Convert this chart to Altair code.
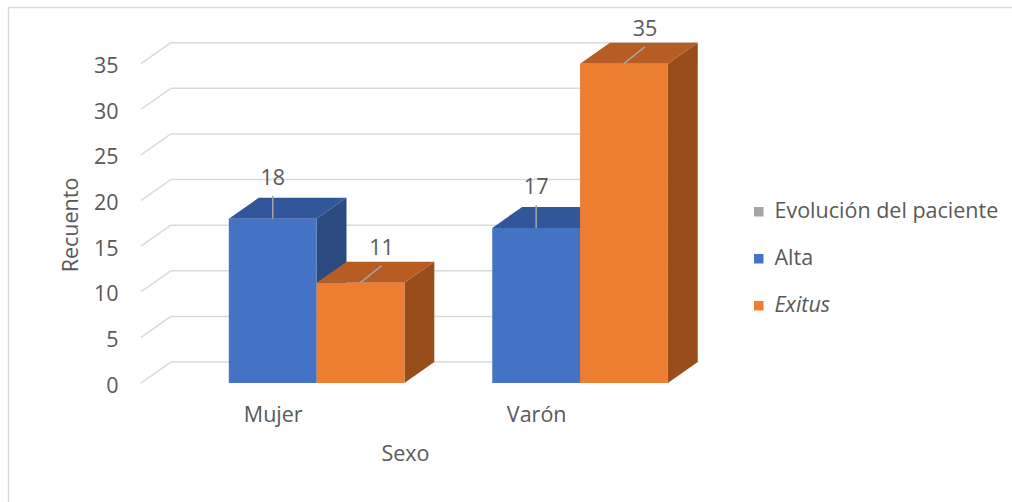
import altair as alt
import pandas as pd

# Recuento por sexo y evolución del paciente
categories = ["Mujer", "Varón"]
series = ["Alta", "Exitus"]
alta = [18, 17]
exitus = [11, 35]
y_ticks = [0, 5, 10, 15, 20, 25, 30, 35]
legend_header = "Evolución del paciente"

# colours of each series: front, top and side faces of the 3-D columns
front_colors = {"Alta": "#4472C4", "Exitus": "#ED7D31"}
top_colors = {"Alta": "#32569A", "Exitus": "#B55D22"}
side_colors = {"Alta": "#2B4A80", "Exitus": "#994D1B"}
header_color = "#A5A5A5"
text_color = "#595959"
grid_color = "#D9D9D9"
FONT = "Open Sans"
FS = 21.5

# depth of the 3-D box, in axis units (bar widths on x, counts on y)
DEPTH_X = 0.34
DEPTH_Y = 2.3
X_MAX = 6.4
Y_MAX = 40
W, H = 562, 365

values = {"Alta": alta, "Exitus": exitus}
rows = []
for ci, cat in enumerate(categories):
    for si, s in enumerate(series):
        xl = ci * 3 + 1 + si
        rows.append(dict(sexo=cat, serie=s, valor=values[s][ci],
                         xl=xl, xr=xl + 1, xc=xl + 0.5, bar=f"{cat}-{s}"))
bars = pd.DataFrame(rows)

top_rows, side_rows = [], []
for r in rows:
    top_rows.append(dict(bar=r["bar"], serie=r["serie"], y=r["valor"], x=r["xl"], x2=r["xr"]))
    top_rows.append(dict(bar=r["bar"], serie=r["serie"], y=r["valor"] + DEPTH_Y,
                         x=r["xl"] + DEPTH_X, x2=r["xr"] + DEPTH_X))
    side_rows.append(dict(bar=r["bar"], serie=r["serie"], x=r["xr"], y=r["valor"], y2=0))
    side_rows.append(dict(bar=r["bar"], serie=r["serie"], x=r["xr"] + DEPTH_X,
                          y=r["valor"] + DEPTH_Y, y2=DEPTH_Y))
tops = pd.DataFrame(top_rows)
sides = pd.DataFrame(side_rows)

grid = pd.DataFrame([dict(v=t, vb=t + DEPTH_Y, x0=0, xb=DEPTH_X,
                          xe=len(categories) * 3 + DEPTH_X) for t in y_ticks])

xs = alt.Scale(domain=[0, X_MAX], nice=False, zero=False)
ys = alt.Scale(domain=[0, Y_MAX], nice=False)

cat_expr = "[" + ",".join(f"'{c}'" for c in categories) + "][floor(datum.value / 3)]"

# shared axes, identical in every layer so they merge into one
x_axis = alt.Axis(
    values=[ci * 3 + 1.5 for ci in range(len(categories))], labelExpr=cat_expr,
    domain=False, ticks=False, grid=False, labelPadding=21,
    labelFontSize=FS, labelColor=text_color, labelFont=FONT,
    title="Sexo", titleFontSize=FS, titleFontWeight="normal", titleColor=text_color,
    titleFont=FONT, titleX=264, titleY=71, titleBaseline="middle")
y_axis = alt.Axis(
    values=y_ticks, domain=False, ticks=False, grid=False, labelPadding=23,
    labelOffset=3, labelFontSize=FS, labelColor=text_color, labelFont=FONT,
    title="Recuento", titleFontSize=FS, titleFontWeight="normal", titleColor=text_color,
    titleFont=FONT, titleX=-70, titleY=H / 2 + 24, titleBaseline="middle",
    titleAngle=-90, titleAlign="center")


def X(field):
    return alt.X(field, scale=xs, axis=x_axis, title="Sexo")


def Y(field):
    return alt.Y(field, scale=ys, axis=y_axis, title="Recuento")


def by_series(colors):
    return alt.condition(alt.datum.serie == series[0],
                         alt.value(colors[series[0]]), alt.value(colors[series[1]]))


# back wall gridlines and their receding floor segments
grid_back = alt.Chart(grid).mark_rule(color=grid_color, strokeWidth=1.5).encode(
    x=X("xb:Q"), x2="xe:Q", y=Y("vb:Q"))
grid_side = alt.Chart(grid).mark_rule(color=grid_color, strokeWidth=1.5).encode(
    x=X("x0:Q"), x2="xb:Q", y=Y("v:Q"), y2="vb:Q")

side = alt.Chart(sides).mark_area(orient="vertical").encode(
    x=X("x:Q"), y=Y("y:Q"), y2="y2:Q",
    detail="bar:N", color=by_series(side_colors))

top = alt.Chart(tops).mark_area(orient="horizontal").encode(
    y=Y("y:Q"), x=X("x:Q"), x2="x2:Q",
    detail="bar:N", color=by_series(top_colors))

front = alt.Chart(bars).mark_rect().encode(
    x=X("xl:Q"), x2="xr:Q",
    y=Y("valor:Q"), y2=alt.datum(0),
    color=alt.Color("serie:N", scale=alt.Scale(
        domain=[legend_header] + series,
        range=[header_color, front_colors[series[0]], front_colors[series[1]]]),
        legend=alt.Legend(title=None, orient="none", legendX=607, legendY=183,
                          symbolType="square", symbolSize=90, symbolStrokeWidth=0,
                          labelFontSize=FS, labelColor=text_color, labelFont=FONT,
                          labelOffset=5, rowPadding=24, labelLimit=0,
                          labelFontStyle=alt.ExprRef(
                              expr=f"datum.label == '{series[1]}' ? 'italic' : 'normal'"))))

# value labels with their leader lines
leader_style = {series[0]: dict(x2Offset=0, y2Offset=-23, dx=0, dy=-40),
                series[1]: dict(x2Offset=21, y2Offset=-17, dx=21, dy=-34)}
labels = []
for s in series:
    st = leader_style[s]
    base = alt.Chart(bars).transform_filter(alt.datum.serie == s)
    labels.append(base.mark_rule(color="#A6A6A6", strokeWidth=1.5,
                                 x2Offset=st["x2Offset"], y2Offset=st["y2Offset"]).encode(
        x=X("xc:Q"), x2="xc:Q", y=Y("valor:Q"), y2="valor:Q"))
    labels.append(base.mark_text(fontSize=FS, color=text_color, font=FONT,
                                 dx=st["dx"], dy=st["dy"], baseline="middle").encode(
        x=X("xc:Q"), y=Y("valor:Q"), text="valor:Q"))

frame = alt.Chart(alt.Data(values=[{}])).mark_rect(
    fillOpacity=0, stroke=grid_color, strokeWidth=1.5).encode(
    x=alt.value(-132.5), x2=alt.value(W + 400), y=alt.value(-10.5), y2=alt.value(H + 300))

chart = alt.layer(frame, grid_back, grid_side, side, top, front, *labels).properties(
    width=W, height=H, autosize="none",
    padding={"left": 141, "top": 18, "right": 1012 - 141 - W, "bottom": 502 - 18 - H},
    background="white",
).configure(font=FONT).configure_view(stroke=None)

chart.save("out.html", embed_options={"renderer": "svg", "actions": False})
